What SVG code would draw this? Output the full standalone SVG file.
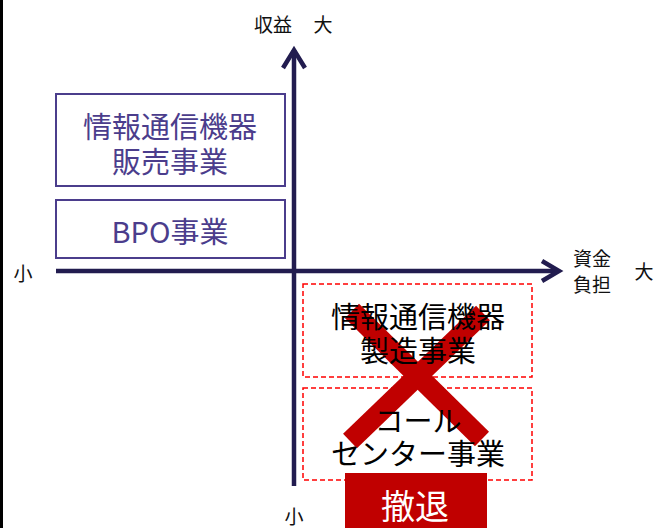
<svg xmlns="http://www.w3.org/2000/svg" width="657" height="528" viewBox="0 0 657 528">
<defs>
<style>
text{font-family:"Noto Sans CJK JP","Noto Sans",sans-serif;text-anchor:middle;dominant-baseline:central}
.lbl{font-size:19px;fill:#111}
.pbox{fill:none;stroke:#4B3D8C;stroke-width:2}
.ptxt{font-size:29px;fill:#4B3D8C}
.rbox{fill:none;stroke:#FF0000;stroke-width:1.5;stroke-dasharray:5 3}
.btxt{font-size:29px;fill:#000}
.axis{stroke:#221C4F;stroke-width:4.5;fill:none}
.xline{stroke:#C00000;stroke-width:20}
</style>
</defs>
<rect x="0" y="0" width="657" height="528" fill="#fff"/>
<rect x="0" y="0" width="3" height="528" fill="#000"/>
<g id="connectors">
<line class="axis" x1="294" y1="50" x2="294" y2="486"/>
<polyline class="axis" points="283,68 294,50 305,68"/>
<line class="axis" x1="56" y1="271" x2="558" y2="271"/>
<polyline class="axis" points="542,261 559,271 542,281"/>
</g>
<g id="axis-labels">
<text class="lbl" x="273" y="23">収益</text>
<text class="lbl" x="323" y="23">大</text>
<text class="lbl" x="592" y="257">資金</text>
<text class="lbl" x="592" y="283">負担</text>
<text class="lbl" x="644" y="270">大</text>
<text class="lbl" x="23" y="272">小</text>
<text class="lbl" x="294" y="515">小</text>
</g>
<g id="node-hanbai">
<rect class="pbox" x="56" y="94" width="229" height="92"/>
<text class="ptxt" x="170" y="125">情報通信機器</text>
<text class="ptxt" x="170" y="160">販売事業</text>
</g>
<g id="node-bpo">
<rect class="pbox" x="56" y="200" width="229" height="58"/>
<text class="ptxt" x="170" y="230">BPO事業</text>
</g>
<g id="node-seizo">
<rect class="rbox" x="303" y="284" width="229" height="93"/>
</g>
<g id="node-call">
<rect class="rbox" x="303" y="388" width="229" height="92"/>
</g>
<g id="cross">
<line class="xline" x1="352" y1="311" x2="482" y2="439"/>
<line class="xline" x1="483" y1="313" x2="350" y2="441"/>
</g>
<g id="node-texts">
<text class="btxt" x="418" y="315">情報通信機器</text>
<text class="btxt" x="418" y="349">製造事業</text>
<text class="btxt" x="418" y="419">コール</text>
<text class="btxt" x="418" y="452">センター事業</text>
</g>
<g id="node-tettai">
<rect x="345" y="473" width="142" height="55" fill="#C00000"/>
<text x="415" y="504" style="font-size:34px;fill:#fff">撤退</text>
</g>
</svg>
